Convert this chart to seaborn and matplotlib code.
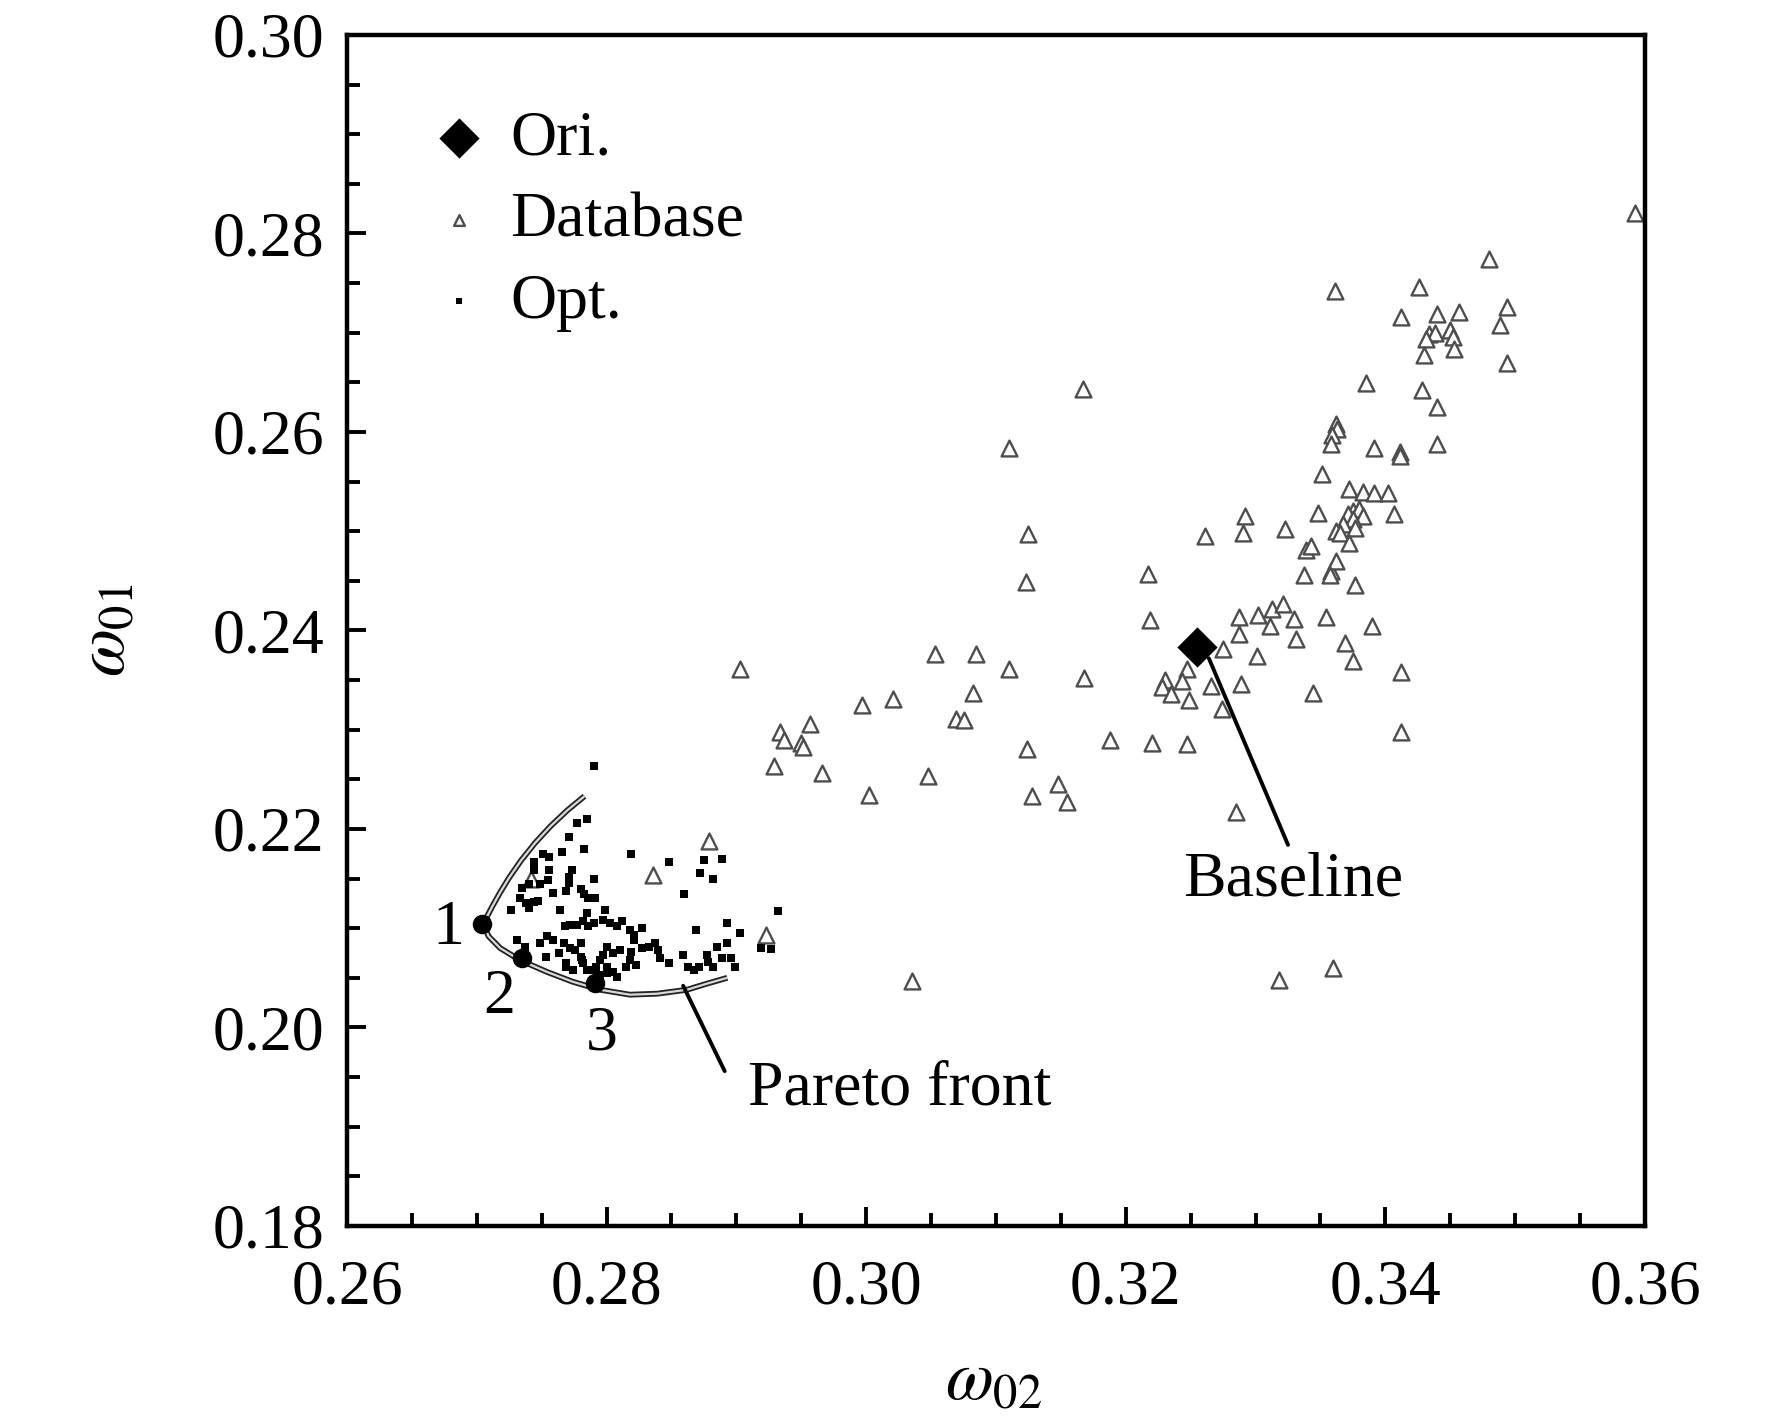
import numpy as np
import pandas as pd
import seaborn as sns
import matplotlib.pyplot as plt
from matplotlib.ticker import MultipleLocator

# database samples (omega02, omega01)
db_w02 = [0.3592, 0.3480, 0.3361, 0.3426, 0.3412, 0.3440, 0.3457, 0.3494, 0.3488, 0.3434,
          0.3438, 0.3450, 0.3452, 0.3431, 0.3430, 0.3453, 0.3494, 0.3385, 0.3428, 0.3440,
          0.3362, 0.3363, 0.3359, 0.3358, 0.3391, 0.3411, 0.3411, 0.3440, 0.3351, 0.3372,
          0.3383, 0.3391, 0.3402, 0.3375, 0.3371, 0.3380, 0.3383, 0.3375, 0.3367, 0.3362,
          0.3365, 0.3377, 0.3372, 0.3348, 0.3407, 0.3323, 0.3339, 0.3343, 0.3337, 0.3358,
          0.3362, 0.3357, 0.3377, 0.3302, 0.3313, 0.3321, 0.3330, 0.3311, 0.3354, 0.3390,
          0.3331, 0.3369, 0.3375, 0.3412, 0.3344, 0.3412, 0.3167, 0.3110, 0.3125, 0.3123,
          0.3217, 0.3219, 0.3261, 0.3292, 0.3290, 0.3287, 0.3287, 0.3275, 0.3301, 0.3247,
          0.3243, 0.3230, 0.3228, 0.3235, 0.3249, 0.3266, 0.3289, 0.3274, 0.3188, 0.3220,
          0.3247, 0.3285, 0.2903, 0.3053, 0.3085, 0.3110, 0.3168, 0.3082, 0.2997, 0.3021,
          0.3069, 0.3075, 0.2934, 0.2957, 0.2937, 0.2950, 0.2951, 0.2929, 0.2966, 0.3048,
          0.3124, 0.3002, 0.3128, 0.3148, 0.3155, 0.2879, 0.2836, 0.2742, 0.2923, 0.3035,
          0.3318, 0.3360]
db_w01 = [0.2821, 0.2774, 0.2742, 0.2746, 0.2716, 0.2719, 0.2721, 0.2726, 0.2708, 0.2699,
          0.2700, 0.2703, 0.2696, 0.2694, 0.2678, 0.2684, 0.2669, 0.2649, 0.2642, 0.2625,
          0.2608, 0.2603, 0.2597, 0.2588, 0.2584, 0.2580, 0.2576, 0.2588, 0.2558, 0.2543,
          0.2540, 0.2538, 0.2538, 0.2520, 0.2517, 0.2522, 0.2515, 0.2512, 0.2507, 0.2500,
          0.2498, 0.2503, 0.2488, 0.2518, 0.2517, 0.2502, 0.2481, 0.2485, 0.2456, 0.2460,
          0.2470, 0.2456, 0.2446, 0.2416, 0.2422, 0.2427, 0.2412, 0.2404, 0.2414, 0.2404,
          0.2391, 0.2387, 0.2369, 0.2358, 0.2337, 0.2298, 0.2643, 0.2584, 0.2497, 0.2449,
          0.2457, 0.2411, 0.2495, 0.2515, 0.2498, 0.2414, 0.2396, 0.2381, 0.2374, 0.2361,
          0.2349, 0.2350, 0.2343, 0.2336, 0.2330, 0.2344, 0.2346, 0.2321, 0.2290, 0.2287,
          0.2286, 0.2217, 0.2361, 0.2376, 0.2376, 0.2361, 0.2352, 0.2337, 0.2325, 0.2331,
          0.2311, 0.2310, 0.2298, 0.2306, 0.2290, 0.2287, 0.2283, 0.2263, 0.2256, 0.2253,
          0.2281, 0.2234, 0.2233, 0.2245, 0.2227, 0.2188, 0.2154, 0.2150, 0.2093, 0.2047,
          0.2048, 0.2060]

# optimised designs
opt_w02 = [0.2790, 0.2785, 0.2777, 0.2771, 0.2783, 0.2766, 0.2751, 0.2756, 0.2744, 0.2756,
           0.2773, 0.2744, 0.2740, 0.2735, 0.2749, 0.2755, 0.2771, 0.2771, 0.2780, 0.2790,
           0.2759, 0.2769, 0.2783, 0.2786, 0.2791, 0.2733, 0.2738, 0.2744, 0.2747, 0.2740,
           0.2726, 0.2764, 0.2785, 0.2799, 0.2797, 0.2812, 0.2818, 0.2827, 0.2821, 0.2808,
           0.2803, 0.2790, 0.2786, 0.2782, 0.2777, 0.2772, 0.2768, 0.2819, 0.2848, 0.2875,
           0.2889, 0.2872, 0.2882, 0.2860, 0.2932, 0.2893, 0.2903, 0.2869, 0.2919, 0.2927,
           0.2893, 0.2885, 0.2877, 0.2889, 0.2896, 0.2899, 0.2882, 0.2878, 0.2871, 0.2867,
           0.2863, 0.2859, 0.2848, 0.2841, 0.2837, 0.2840, 0.2833, 0.2827, 0.2821, 0.2819,
           0.2818, 0.2815, 0.2823, 0.2810, 0.2805, 0.2800, 0.2797, 0.2795, 0.2792, 0.2800,
           0.2790, 0.2782, 0.2780, 0.2776, 0.2772, 0.2767, 0.2759, 0.2749, 0.2753, 0.2731,
           0.2737, 0.2754, 0.2780, 0.2800, 0.2805, 0.2808, 0.2795, 0.2785, 0.2774, 0.2769,
           0.2781, 0.2763, 0.2769]
opt_w01 = [0.2263, 0.2210, 0.2206, 0.2192, 0.2180, 0.2177, 0.2175, 0.2172, 0.2167, 0.2159,
           0.2159, 0.2159, 0.2145, 0.2140, 0.2145, 0.2149, 0.2152, 0.2146, 0.2139, 0.2150,
           0.2135, 0.2137, 0.2134, 0.2130, 0.2130, 0.2130, 0.2125, 0.2126, 0.2127, 0.2120,
           0.2118, 0.2118, 0.2115, 0.2118, 0.2108, 0.2107, 0.2098, 0.2100, 0.2093, 0.2102,
           0.2105, 0.2105, 0.2102, 0.2107, 0.2103, 0.2103, 0.2102, 0.2175, 0.2167, 0.2169,
           0.2170, 0.2156, 0.2150, 0.2134, 0.2117, 0.2105, 0.2095, 0.2098, 0.2080, 0.2079,
           0.2085, 0.2081, 0.2073, 0.2070, 0.2070, 0.2061, 0.2061, 0.2066, 0.2061, 0.2058,
           0.2061, 0.2073, 0.2065, 0.2070, 0.2085, 0.2078, 0.2081, 0.2080, 0.2088, 0.2076,
           0.2068, 0.2061, 0.2063, 0.2078, 0.2075, 0.2081, 0.2073, 0.2068, 0.2061, 0.2061,
           0.2058, 0.2065, 0.2071, 0.2078, 0.2080, 0.2085, 0.2088, 0.2085, 0.2071, 0.2088,
           0.2081, 0.2092, 0.2085, 0.2055, 0.2056, 0.2051, 0.2053, 0.2058, 0.2058, 0.2061,
           0.2068, 0.2075, 0.2065]

# original (baseline) design
ori_w02 = [0.3255]
ori_w01 = [0.2383]

# pareto front curve and the three picked designs
pf_w02 = [0.2783, 0.2770, 0.2757, 0.2745, 0.2734, 0.2725, 0.2718, 0.2712, 0.2708, 0.2706,
          0.2709, 0.2718, 0.2733, 0.2754, 0.2774, 0.2795, 0.2818, 0.2839, 0.2862, 0.2877,
          0.2893]
pf_w01 = [0.2233, 0.2219, 0.2203, 0.2186, 0.2168, 0.2151, 0.2136, 0.2122, 0.2112, 0.2102,
          0.2092, 0.2080, 0.2068, 0.2056, 0.2046, 0.2038, 0.2033, 0.2034, 0.2038, 0.2044,
          0.2050]
sel_w02 = [0.2704, 0.2735, 0.2791]
sel_w01 = [0.2104, 0.2070, 0.2045]
sel_labels = ['1', '2', '3']
sel_label_pos = [(0.2678, 0.2099), (0.2717, 0.2030), (0.2796, 0.1993)]

sns.set_style("ticks")
plt.rcParams['font.family'] = ['Liberation Serif', 'DejaVu Serif']
plt.rcParams['mathtext.fontset'] = 'stix'
plt.rcParams['text.color'] = 'black'
plt.rcParams['axes.labelcolor'] = 'black'
plt.rcParams['xtick.color'] = 'black'
plt.rcParams['ytick.color'] = 'black'

fig = plt.figure(figsize=(17.72, 14.27), dpi=100)
ax = fig.add_axes([0.1958, 0.1409, 0.7325, 0.8346])

db = pd.DataFrame({'w02': db_w02, 'w01': db_w01})
opt = pd.DataFrame({'w02': opt_w02, 'w01': opt_w01})
ori = pd.DataFrame({'w02': ori_w02, 'w01': ori_w01})

sns.scatterplot(data=db, x='w02', y='w01', ax=ax, marker='^', s=130,
                facecolor='white', edgecolor='#4d4d4d', linewidth=1.7, label='Database', zorder=2)
sns.scatterplot(data=opt, x='w02', y='w01', ax=ax, marker='s', s=28,
                color='black', edgecolor='black', linewidth=0, label='Opt.', zorder=3)

# pareto front as double line
ax.plot(pf_w02, pf_w01, color='#222222', lw=4.2, solid_capstyle='butt', zorder=4)
ax.plot(pf_w02, pf_w01, color='#d9d9d9', lw=1.6, solid_capstyle='butt', zorder=5)
ax.scatter(sel_w02, sel_w01, s=170, color='black', zorder=6)
for lab, (tx, ty) in zip(sel_labels, sel_label_pos):
    ax.text(tx, ty, lab, fontsize=46, ha='center', va='center')

sns.scatterplot(data=ori, x='w02', y='w01', ax=ax, marker='D', s=420,
                color='black', edgecolor='black', linewidth=0, label='Ori.', zorder=7)

# annotations
ax.plot([0.3264, 0.3325], [0.2372, 0.2184], color='black', lw=2.8, zorder=6)
ax.text(0.3329, 0.2148, 'Baseline', fontsize=46, ha='center', va='center')
ax.plot([0.2859, 0.2891], [0.2042, 0.1956], color='black', lw=2.8, zorder=6)
ax.text(0.3026, 0.1937, 'Pareto front', fontsize=46, ha='center', va='center')

ax.set_xlim(0.26, 0.36)
ax.set_ylim(0.18, 0.30)
ax.xaxis.set_major_locator(MultipleLocator(0.02))
ax.xaxis.set_minor_locator(MultipleLocator(0.005))
ax.yaxis.set_major_locator(MultipleLocator(0.02))
ax.yaxis.set_minor_locator(MultipleLocator(0.005))
ax.xaxis.set_major_formatter(plt.FormatStrFormatter('%.2f'))
ax.yaxis.set_major_formatter(plt.FormatStrFormatter('%.2f'))
ax.tick_params(which='both', direction='in', top=False, right=False, width=2.8,
               labelsize=46, color='black', labelcolor='black')
ax.tick_params(which='major', length=14)
ax.tick_params(which='minor', length=9.5)
ax.tick_params(axis='x', pad=24)
ax.tick_params(axis='y', pad=16)
for sp in ax.spines.values():
    sp.set_linewidth(3.2)
    sp.set_color('black')

ax.set_xlabel(r'$\omega_{02}$', fontsize=50, color='black')
ax.set_ylabel(r'$\omega_{01}$', fontsize=50, color='black')
ax.xaxis.set_label_coords(0.498, -0.105)
ax.yaxis.set_label_coords(-0.16, 0.5)

handles, labels = ax.get_legend_handles_labels()
order = [labels.index(k) for k in ['Ori.', 'Database', 'Opt.']]
leg = ax.legend([handles[i] for i in order], [labels[i] for i in order],
                loc='upper left', bbox_to_anchor=(0.062, 0.937), frameon=False,
                fontsize=46, handlelength=1.0, handletextpad=0.3, borderpad=0,
                labelspacing=0.36, borderaxespad=0)
for t in leg.get_texts():
    t.set_color('black')
leg.legend_handles[1].set_sizes([60])
leg.legend_handles[2].set_sizes([20])

fig.savefig('out.png', dpi=100, facecolor='white')
